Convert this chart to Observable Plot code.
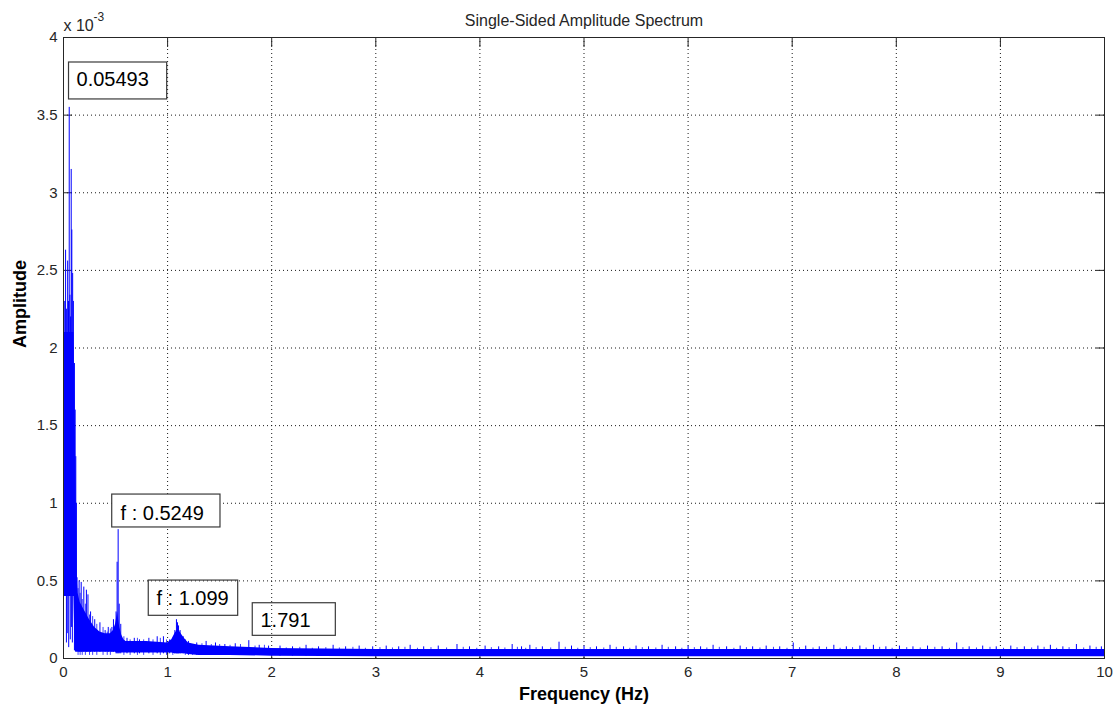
<!DOCTYPE html>
<html>
<head>
<meta charset="utf-8">
<script src="https://cdn.jsdelivr.net/npm/d3@7"></script>
<script src="https://cdn.jsdelivr.net/npm/@observablehq/plot@0.6"></script>
<style>
  html, body { margin: 0; padding: 0; background: #fff; }
  #chart svg { display: block; }
</style>
</head>
<body>
<div id="chart"></div>
<script>
// ---- Data (amplitude in units of 1e-3) ----
const xTicks = [0, 1, 2, 3, 4, 5, 6, 7, 8, 9, 10];
const yTicks = [0, 0.5, 1, 1.5, 2, 2.5, 3, 3.5, 4];

// Dense noise band of the spectrum: frequency, lower and upper edge
const bandFreq = [0, 0.01, 0.1, 0.103, 0.108, 0.113, 0.118, 0.123, 0.128, 0.133,
  0.14, 0.16, 0.2, 0.25, 0.3, 0.35, 0.4, 0.45, 0.48, 0.5,
  0.51, 0.52, 0.53, 0.54, 0.56, 0.58, 0.6, 0.8, 1.0, 1.04,
  1.07, 1.1, 1.13, 1.16, 1.2, 1.3, 1.6, 2.0, 3, 4,
  5, 6, 7, 8, 9, 10];
const bandHigh = [1.3, 2.1, 2.1, 1.95, 1.7, 1.45, 1.2, 0.95, 0.7, 0.5,
  0.42, 0.36, 0.31, 0.25, 0.2, 0.17, 0.16, 0.16, 0.18, 0.22,
  0.26, 0.3, 0.25, 0.2, 0.15, 0.12, 0.11, 0.11, 0.1, 0.12,
  0.16, 0.19, 0.16, 0.13, 0.1, 0.085, 0.075, 0.065, 0.058, 0.058,
  0.058, 0.058, 0.058, 0.058, 0.058, 0.058];
const bandLow = [0, 0.4, 0.4, 0.3, 0.15, 0.05, 0.04, 0.04, 0.04, 0.04,
  0.04, 0.04, 0.04, 0.04, 0.04, 0.04, 0.04, 0.04, 0.04, 0.04,
  0.035, 0.035, 0.035, 0.035, 0.035, 0.035, 0.035, 0.035, 0.035, 0.035,
  0.03, 0.03, 0.03, 0.03, 0.025, 0.02, 0.02, 0.015, 0.012, 0.012,
  0.012, 0.012, 0.012, 0.012, 0.012, 0.012];

// Individual spectral spikes: frequency, trough and peak
const spikeFreq = [0.0, 0.012, 0.02, 0.03, 0.04, 0.048, 0.055, 0.062, 0.068, 0.074, 0.08, 0.088, 0.095,
  0.028, 0.036, 0.05, 0.065, 0.078, 0.085,
  0.105, 0.112, 0.118, 0.124, 0.13, 0.15, 0.17, 0.195, 0.22, 0.235, 0.26, 0.3, 0.35, 0.4, 0.43, 0.465, 0.48,
  0.505, 0.515, 0.525, 0.535, 0.55, 0.61, 0.68, 0.73, 0.82, 0.9, 0.96, 1.02,
  1.07, 1.085, 1.095, 1.105, 1.12, 1.15, 1.2, 1.28, 1.37, 1.46, 1.55, 1.65, 1.78, 1.88, 1.97,
  2.08, 2.2, 2.33, 2.45, 2.59, 2.71, 2.84, 2.97, 3.1, 3.22, 3.33, 3.46, 3.6, 3.78, 3.9,
  4.05, 4.18, 4.31, 4.4, 4.48, 4.6, 4.76, 4.88, 5.0, 5.12, 5.25, 5.38, 5.5, 5.62, 5.75, 5.88,
  6.0, 6.12, 6.24, 6.37, 6.5, 6.62, 6.75, 6.88, 7.01, 7.13, 7.26, 7.4, 7.52, 7.65, 7.78, 7.9,
  8.03, 8.16, 8.3, 8.44, 8.58, 8.7, 8.83, 8.96, 9.1, 9.23, 9.36, 9.48, 9.6, 9.73, 9.86, 9.97];
const spikeLow = [0, 0.4, 0.4, 0.4, 0.4, 0.4, 0.4, 0.4, 0.4, 0.4, 0.4, 0.4, 0.4,
  0.1, 0.16, 0.07, 0.12, 0.2, 0.1,
  0.05, 0.05, 0.05, 0.05, 0.05, 0.04, 0.04, 0.04, 0.04, 0.04, 0.04, 0.04, 0.04, 0.04, 0.04, 0.04, 0.04,
  0.03, 0.03, 0.03, 0.03, 0.03, 0.03, 0.03, 0.03, 0.03, 0.03, 0.03, 0.03,
  0.03, 0.03, 0.03, 0.03, 0.03, 0.03, 0.02, 0.02, 0.02, 0.02, 0.02, 0.02, 0.02, 0.02, 0.02,
  0.015, 0.015, 0.015, 0.015, 0.015, 0.015, 0.015, 0.015, 0.015, 0.015, 0.015, 0.015, 0.015, 0.015, 0.015,
  0.015, 0.015, 0.015, 0.015, 0.015, 0.015, 0.015, 0.015, 0.015, 0.015, 0.015, 0.015, 0.015, 0.015, 0.015, 0.015,
  0.015, 0.015, 0.015, 0.015, 0.015, 0.015, 0.015, 0.015, 0.015, 0.015, 0.015, 0.015, 0.015, 0.015, 0.015, 0.015,
  0.015, 0.015, 0.015, 0.015, 0.015, 0.015, 0.015, 0.015, 0.015, 0.015, 0.015, 0.015, 0.015, 0.015, 0.015, 0.015];
const spikeHigh = [1.34, 2.3, 2.63, 2.25, 2.56, 2.3, 3.55, 2.34, 2.2, 3.15, 2.76, 2.48, 2.3,
  0.4, 0.4, 0.4, 0.4, 0.4, 0.4,
  1.9, 1.6, 1.3, 1.0, 0.52, 0.5, 0.49, 0.46, 0.44, 0.41, 0.3, 0.25, 0.23, 0.18, 0.2, 0.2, 0.25,
  0.3, 0.62, 0.83, 0.35, 0.22, 0.13, 0.13, 0.12, 0.13, 0.14, 0.14, 0.12,
  0.18, 0.25, 0.23, 0.21, 0.18, 0.14, 0.11, 0.1, 0.11, 0.1, 0.09, 0.095, 0.115, 0.085, 0.08,
  0.08, 0.075, 0.085, 0.075, 0.085, 0.075, 0.08, 0.075, 0.08, 0.075, 0.085, 0.075, 0.08, 0.09, 0.075,
  0.08, 0.075, 0.09, 0.075, 0.085, 0.075, 0.105, 0.08, 0.08, 0.075, 0.085, 0.075, 0.08, 0.075, 0.085, 0.075,
  0.08, 0.075, 0.085, 0.075, 0.08, 0.075, 0.08, 0.075, 0.1, 0.08, 0.075, 0.085, 0.075, 0.08, 0.085, 0.075,
  0.08, 0.075, 0.08, 0.075, 0.1, 0.075, 0.08, 0.075, 0.08, 0.075, 0.08, 0.085, 0.075, 0.09, 0.08, 0.075];

// Smaller spikes that roughen the top edge of the noise band
const minorFreq = [0.14, 0.16, 0.18, 0.21, 0.25, 0.28, 0.32, 0.38, 0.42, 0.45,
  0.58, 0.64, 0.71, 0.77, 0.86, 0.93, 0.99, 1.05, 1.17, 1.24,
  1.33, 1.42, 1.5, 1.6, 1.7, 1.84, 1.93,
  2.14, 2.27, 2.39, 2.52, 2.65, 2.78, 2.9, 3.04, 3.16, 3.28, 3.4, 3.53, 3.68, 3.84, 3.97,
  4.11, 4.24, 4.36, 4.44, 4.54, 4.68, 4.82, 4.94, 5.06, 5.19, 5.31, 5.44, 5.56, 5.69, 5.81, 5.94,
  6.06, 6.18, 6.3, 6.44, 6.56, 6.69, 6.82, 6.95, 7.07, 7.2, 7.33, 7.46, 7.58, 7.71, 7.84, 7.96,
  8.1, 8.23, 8.37, 8.51, 8.64, 8.77, 8.9, 9.03, 9.16, 9.3, 9.42, 9.54, 9.66, 9.8, 9.92];
const minorHigh = [0.45, 0.42, 0.38, 0.35, 0.28, 0.27, 0.22, 0.2, 0.17, 0.19,
  0.14, 0.12, 0.13, 0.12, 0.12, 0.13, 0.12, 0.13, 0.12, 0.09,
  0.095, 0.09, 0.09, 0.085, 0.09, 0.08, 0.085,
  0.068, 0.072, 0.066, 0.07, 0.068, 0.072, 0.066, 0.07, 0.068, 0.072, 0.066, 0.07, 0.068, 0.072, 0.066,
  0.07, 0.068, 0.072, 0.066, 0.07, 0.068, 0.072, 0.066, 0.07, 0.068, 0.072, 0.066, 0.07, 0.068, 0.072, 0.066,
  0.07, 0.068, 0.072, 0.066, 0.07, 0.068, 0.072, 0.066, 0.07, 0.068, 0.072, 0.066, 0.07, 0.068, 0.072, 0.066,
  0.07, 0.068, 0.072, 0.066, 0.07, 0.068, 0.072, 0.066, 0.07, 0.068, 0.072, 0.066, 0.07, 0.068, 0.072];

// Data-tip annotations
const tipText = ["0.05493", "f : 0.5249", "f : 1.099", "1.791"];
const tipX1 = [0.053, 0.468, 0.819, 1.818];
const tipX2 = [0.996, 1.508, 1.678, 2.616];
const tipY1 = [3.601, 0.844, 0.275, 0.146];
const tipY2 = [3.839, 1.056, 0.502, 0.356];
const tipTextX = [0.125, 0.548, 0.893, 1.892];
const tipTextY = [3.728, 0.934, 0.388, 0.247];
const tipFilled = [true, true, false, false];

const titleText = "Single-Sided Amplitude Spectrum";
const xLabel = "Frequency (Hz)";
const yLabel = "Amplitude";
const expBase = "x 10";
const expPower = "-3";

// ---- Tables ----
const band = bandFreq.map((f, i) => ({f, low: bandLow[i], high: bandHigh[i]}));
const spikes = spikeFreq.map((f, i) => ({f, low: spikeLow[i], high: spikeHigh[i]}));
const minor = minorFreq.map((f, i) => ({f, high: minorHigh[i]}));
const tips = tipText.map((t, i) => ({t, x1: tipX1[i], x2: tipX2[i], y1: tipY1[i], y2: tipY2[i], tx: tipTextX[i], ty: tipTextY[i], filled: tipFilled[i]}));

const font = "'Liberation Sans', Arial, Helvetica, sans-serif";
const blue = "#0000ff";
const axisColor = "#262626";

const chart = Plot.plot({
  width: 1119,
  height: 713,
  marginTop: 37,
  marginRight: 15,
  marginBottom: 55,
  marginLeft: 63,
  x: {domain: [0, 10], label: null},
  y: {domain: [0, 4], label: null},
  style: {fontFamily: font, fontSize: "15px", color: axisColor, background: "#fff"},
  marks: [
    Plot.gridX(xTicks, {stroke: "#000", strokeOpacity: 0.9, strokeDasharray: "1,3"}),
    Plot.gridY(yTicks, {stroke: "#000", strokeOpacity: 0.9, strokeDasharray: "1,3"}),
    Plot.axisX(xTicks, {anchor: "bottom", tickSize: -9, tickPadding: 17, label: null, stroke: axisColor}),
    Plot.axisX(xTicks, {anchor: "top", tickSize: -9, tickFormat: () => "", label: null, stroke: axisColor}),
    Plot.axisY(yTicks, {anchor: "left", tickSize: -9, tickPadding: 15, tickFormat: d => String(d), label: null, stroke: axisColor}),
    Plot.axisY(yTicks, {anchor: "right", tickSize: -9, tickFormat: () => "", label: null, stroke: axisColor}),
    Plot.areaY(band, {x: "f", y1: "low", y2: "high", fill: blue, curve: "linear"}),
    Plot.ruleX(minor, {x: "f", y1: 0.02, y2: "high", stroke: blue, strokeWidth: 1, strokeOpacity: 0.75}),
    Plot.ruleX(spikes, {x: "f", y1: "low", y2: "high", stroke: blue, strokeWidth: 1}),
    Plot.frame({stroke: axisColor, strokeWidth: 1}),
    Plot.rect(tips, {x1: "x1", x2: "x2", y1: "y1", y2: "y2", fill: d => d.filled ? "#fff" : "none", stroke: "#3a3a3a", strokeWidth: 1.2}),
    Plot.text(tips, {x: "tx", y: "ty", text: "t", textAnchor: "start", lineAnchor: "middle", fontSize: 20, fill: "#000"}),
    Plot.text([titleText], {text: d => d, frameAnchor: "top", dy: -12, lineAnchor: "bottom", fontSize: 16, fill: axisColor}),
    Plot.text([xLabel], {text: d => d, frameAnchor: "bottom", dy: 41, lineAnchor: "bottom", fontSize: 18, fontWeight: "bold", fill: "#000"}),
    Plot.text([yLabel], {text: d => d, frameAnchor: "left", dx: -43, rotate: -90, lineAnchor: "middle", fontSize: 18, fontWeight: "bold", fill: "#000"}),
    Plot.text([expBase], {text: d => d, frameAnchor: "top-left", dx: 0, dy: -7, textAnchor: "start", lineAnchor: "bottom", fontSize: 16, fill: axisColor}),
    Plot.text([expPower], {text: d => d, frameAnchor: "top-left", dx: 30, dy: -17, textAnchor: "start", lineAnchor: "bottom", fontSize: 12, fill: axisColor})
  ]
});

document.getElementById("chart").appendChild(chart);
</script>
</body>
</html>
